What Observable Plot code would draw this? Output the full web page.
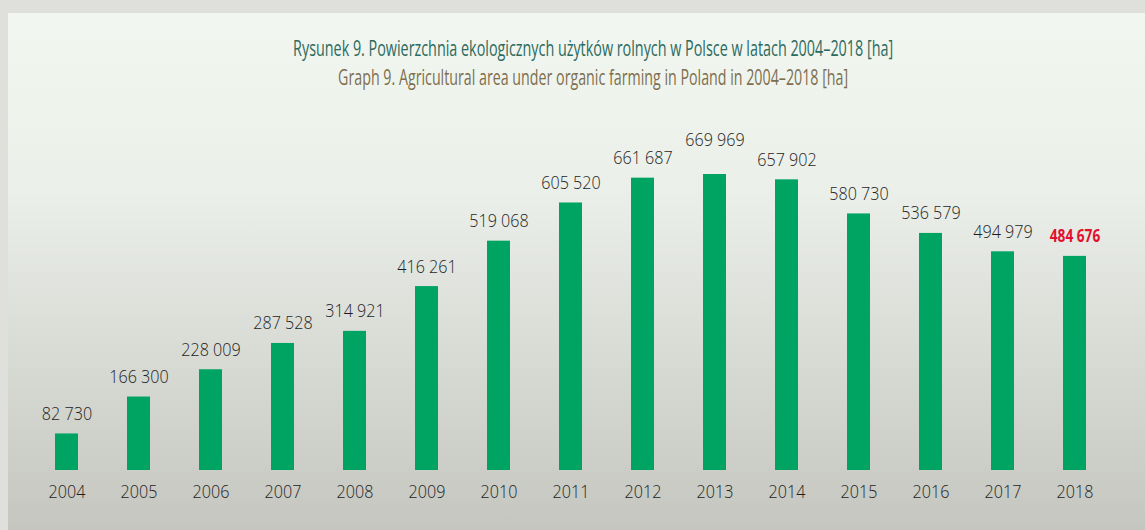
<!DOCTYPE html>
<html>
<head>
<meta charset="utf-8">
<script src="https://cdn.jsdelivr.net/npm/d3@7"></script>
<script src="https://cdn.jsdelivr.net/npm/@observablehq/plot@0.6"></script>
<style>
  html, body { margin: 0; padding: 0; }
  body { width: 1145px; height: 530px; overflow: hidden; background: #dfe0dc; position: relative; }
  #frame { position: absolute; left: 8px; top: 13px; width: 1137px; height: 517px;
    background: linear-gradient(to bottom, #f1f7f0 0%, #ebefe9 35%, #d6d8d2 70%, #c5c6c0 100%); }
  .t { position: absolute; left: 21px; width: 1145px; text-align: center; white-space: nowrap;
    font-family: "Open Sans", sans-serif; font-size: 21px; line-height: 24px; }
  .t span { display: inline-block; transform-origin: 50% 50%; }
  #t1 { top: 36px; color: #2c6a5f; }
  #t2 { top: 65px; color: #7d6e4f; }
  #chart { position: absolute; left: 0; top: 95px; }
</style>
</head>
<body>
<div id="frame"></div>
<div class="t" id="t1"><span>Rysunek 9. Powierzchnia ekologicznych użytków rolnych w Polsce w latach 2004–2018 [ha]</span></div>
<div class="t" id="t2"><span>Graph 9. Agricultural area under organic farming in Poland in 2004–2018 [ha]</span></div>
<div id="chart"></div>
<script>
const years = ["2004","2005","2006","2007","2008","2009","2010","2011","2012","2013","2014","2015","2016","2017","2018"];
const values = [82730,166300,228009,287528,314921,416261,519068,605520,661687,669969,657902,580730,536579,494979,484676];
const labels = ["82 730","166 300","228 009","287 528","314 921","416 261","519 068","605 520","661 687","669 969","657 902","580 730","536 579","494 979","484 676"];

// fit the condensed-looking titles to the reference widths
function fit(id, target) {
  const s = document.querySelector("#" + id + " span");
  const w = s.getBoundingClientRect().width;
  s.style.transform = "scaleX(" + (target / w) + ")";
}
fit("t1", 600);
fit("t2", 510);

const data = years.map((y, i) => ({year: y, value: values[i], label: labels[i]}));
const normal = data.filter(d => d.year !== "2018" && d.year !== "2013");
const raised = data.filter(d => d.year === "2013");
const highlight = data.filter(d => d.year === "2018");

const chart = Plot.plot({
  width: 1145,
  height: 435,
  marginLeft: 5,
  marginRight: 8,
  marginTop: 79,
  marginBottom: 60,
  style: {background: "transparent", fontFamily: "'Open Sans', sans-serif"},
  x: {domain: years, padding: 0.68, label: null},
  y: {domain: [0, 669969], axis: null},
  marks: [
    Plot.axisX({tickSize: 0, tickPadding: 14, fontSize: 19, fontWeight: 300, fill: "#1e1e1e", label: null}),
    Plot.barY(data, {x: "year", y: "value", fill: "#00a462"}),
    Plot.text(normal, {x: "year", y: "value", text: "label", lineAnchor: "bottom", dy: -14,
      fontSize: 19, fontWeight: 300, fill: "#1e1e1e"}),
    Plot.text(raised, {x: "year", y: "value", text: "label", lineAnchor: "bottom", dy: -29,
      fontSize: 19, fontWeight: 300, fill: "#1e1e1e"}),
    Plot.text(highlight, {x: "year", y: "value", text: "label", lineAnchor: "bottom", dy: -14,
      fontSize: 18, fontWeight: "bold", fill: "#e2102c", className: "hl"})
  ]
});
// condense text glyphs horizontally (reference uses a condensed face)
d3.select(chart).selectAll("text").each(function() {
  const t = this.getAttribute("transform") || "";
  const k = this.closest(".hl") ? 0.76 : 0.85;
  this.setAttribute("transform", t + " scale(" + k + ",1)");
});
document.getElementById("chart").appendChild(chart);
</script>
</body>
</html>
